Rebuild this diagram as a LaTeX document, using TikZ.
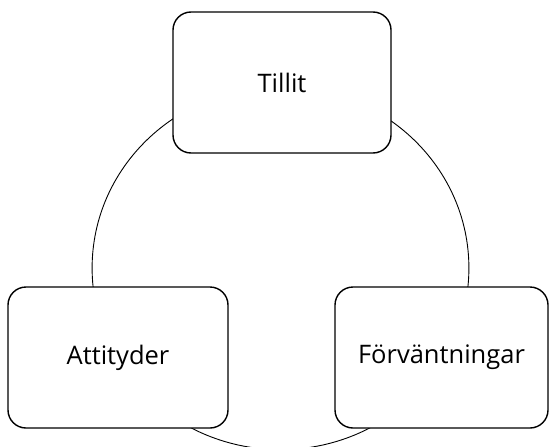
\documentclass[tikz,border=0pt]{standalone}
\usepackage{fontspec}
\setmainfont{Open Sans}
\usepackage{xcolor}
\usepackage{tikz}
\definecolor{ink}{HTML}{000000}
\definecolor{paper}{HTML}{FFFFFF}
\tikzset{
  ring/.style={draw=ink, line width=0.9pt},
  box/.style={draw=ink, fill=paper, line width=1.4pt, rounded corners=18pt,
    minimum height=141pt, text=ink, font=\fontsize{25.5}{30}\selectfont},
}
\begin{document}
\begin{tikzpicture}[x=1pt,y=-1pt]
  \useasboundingbox (0,0) rectangle (549,447);
  \clip (0,0) rectangle (549,447);
  \coordinate (C) at (280.5,268);

  \draw[ring] (C) ellipse [x radius=188.4pt, y radius=181.6pt];
  \node[box, minimum width=218pt] (tillit) at (282,82.5) {Tillit};
  \node[box, minimum width=220pt] (attityder) at (118,357.5) {Attityder};
  \node[box, minimum width=213pt] (forv) at (441.5,357.5) {Förväntningar};
\end{tikzpicture}
\end{document}
